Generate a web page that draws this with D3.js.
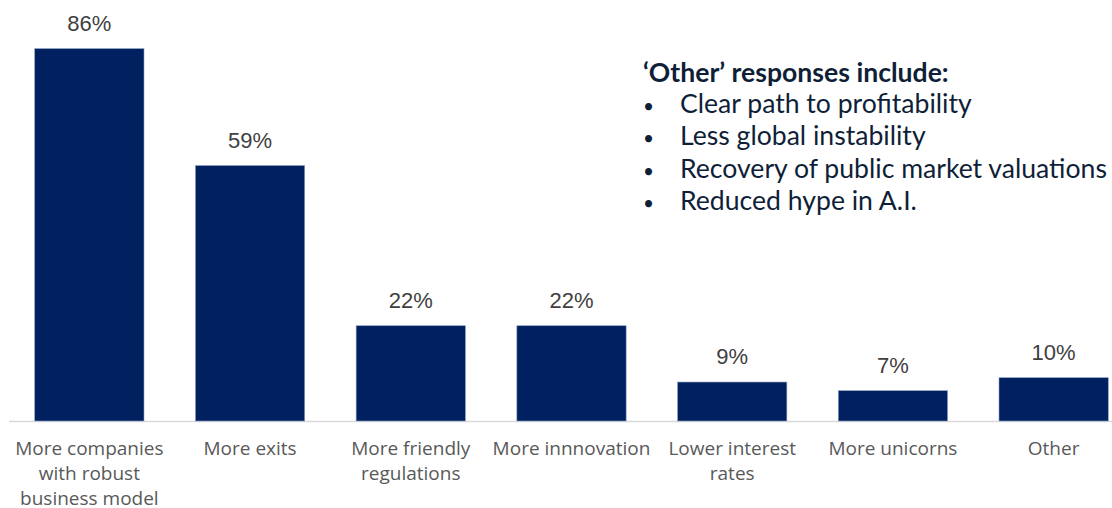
<!DOCTYPE html>
<html><head><meta charset="utf-8">
<script src="https://cdn.jsdelivr.net/npm/d3@7"></script>
<style>html,body{margin:0;padding:0;background:#fff;}svg{display:block;}</style>
</head><body>
<svg id="chart" width="1112" height="508"></svg>
<script>
const categories = [
  ["More companies","with robust","business model"],
  ["More exits"],
  ["More friendly","regulations"],
  ["More innnovation"],
  ["Lower interest","rates"],
  ["More unicorns"],
  ["Other"]
];
const values = [86, 59, 22, 22, 9, 7, 10];
const noteTitle = "\u2018Other\u2019 responses include:";
const noteItems = ["Clear path to profitability","Less global instability","Recovery of public market valuations","Reduced hype in A.I."];

const svg = d3.select("#chart");
const baseY = 421;
const x = d3.scaleBand().domain(d3.range(values.length)).range([9, 1134]).paddingInner(0.32).paddingOuter(0.16);
const y = d3.scaleLinear().domain([0, 100]).range([baseY, baseY - 433]);

svg.append("line").attr("x1", 9).attr("x2", 1112).attr("y1", baseY + 0.5).attr("y2", baseY + 0.5)
  .attr("stroke", "#d9d9d9").attr("stroke-width", 1.5);

svg.selectAll("rect.bar").data(values).join("rect").attr("class","bar")
  .attr("x", (d,i) => x(i)).attr("width", x.bandwidth())
  .attr("y", d => y(d)).attr("height", d => baseY - y(d))
  .attr("fill", "#002060").attr("stroke", "#8ea0c2").attr("stroke-width", 0.6);

svg.selectAll("text.val").data(values).join("text").attr("class","val")
  .attr("x", (d,i) => x(i) + x.bandwidth()/2).attr("y", d => y(d) - 18)
  .attr("text-anchor","middle").attr("font-family","'Liberation Sans', Arial, sans-serif")
  .attr("font-size", 22).attr("fill","#404040").text(d => d + "%");

const cat = svg.selectAll("text.cat").data(categories).join("text").attr("class","cat")
  .attr("text-anchor","middle").attr("font-family","'Open Sans', 'Noto Sans', sans-serif")
  .attr("font-size", 19).attr("fill","#595959");
cat.each(function(lines, i){
  const t = d3.select(this);
  lines.forEach((l, j) => t.append("tspan").attr("x", x(i) + x.bandwidth()/2).attr("y", 455 + j*25).text(l));
});

const note = svg.append("g").attr("font-family","Lato, sans-serif").attr("fill","#0f1f38");
note.append("text").attr("x", 643).attr("y", 82).attr("font-size", 26.6).attr("font-weight","bold").text(noteTitle);
noteItems.forEach((s, k) => {
  note.append("text").attr("x", 643).attr("y", 113 + k*32.3).attr("font-size", 19).text("\u2022");
  note.append("text").attr("x", 680).attr("y", 113 + k*32.3).attr("font-size", 26.6).text(s);
});
</script>
</body></html>
